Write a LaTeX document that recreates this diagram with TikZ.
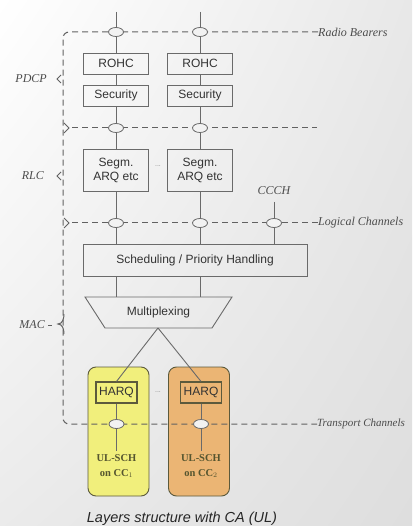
\documentclass[tikz,border=0pt]{standalone}
\usepackage{fontspec}
\setmainfont{Liberation Serif}
\setsansfont{Liberation Sans}
\usetikzlibrary{shapes.geometric, positioning, calc, shadings}
\usepackage{xcolor}

\definecolor{linegray}{HTML}{6A6A6A}
\definecolor{ccyellow}{HTML}{F1EF7C}
\definecolor{ccorange}{HTML}{EBB574}
\definecolor{ccborder}{HTML}{5C5A3C}
\definecolor{cctext}{HTML}{55552F}

\begin{document}
\begin{tikzpicture}[x=1pt, y=-1pt,
  box/.style={draw=linegray, line width=0.9pt, minimum width=65pt, minimum height=21pt, inner sep=0pt,
    font=\sffamily\fontsize{12}{14}\selectfont, text=black!80, align=center},
  chan/.style={draw=linegray, line width=0.8pt, ellipse, fill=white!95!black, minimum width=15pt, minimum height=9pt, inner sep=0pt},
  wire/.style={draw=linegray, line width=0.9pt},
  dashline/.style={draw=black!62, line width=1pt, dash pattern=on 6pt off 4pt},
  chanlabel/.style={font=\itshape\fontsize{12}{14}\selectfont, text=black!70, inner sep=0pt, anchor=west},
  layer/.style={font=\itshape\fontsize{12}{14}\selectfont, text=black!70, inner sep=0pt},
  brace/.style={draw=black!62, line width=1pt},
  carrier/.style={draw=ccborder, line width=0.9pt, rounded corners=8pt, minimum width=61pt, minimum height=129pt},
  sch/.style={font=\bfseries\fontsize{10.5}{15}\selectfont, text=cctext, align=center},
  more/.style={font=\sffamily\scriptsize, text=black!45}
]
  % background
  \clip (0,0) rectangle (412,526);
  \shade[upper left=white, upper right=black!9, lower left=black!8, lower right=black!13] (0,0) rectangle (412,526);

  % component carriers
  \node[carrier, fill=ccyellow] (cc1) at (118.5,431.5) {};
  \node[carrier, fill=ccorange] (cc2) at (199,431.5) {};

  % channel labels
  \node[chanlabel] (rbname) at (318,32) {Radio Bearers};
  \node[chanlabel] (lcname) at (318,223) {Logical Channels};
  \node[chanlabel, font=\itshape\fontsize{11}{13}\selectfont] (tcname) at (317,424) {Transport Channels};
  \coordinate (rpstart) at (72,128);
  \coordinate (rpend) at (317,128);
  \coordinate (lcstart) at (72,223);

  % layer labels
  \node[layer, anchor=east] (pdcp) at (47,79) {PDCP};
  \node[layer, anchor=east] (rlc) at (44,176) {RLC};
  \node[layer, anchor=east] (mac) at (45,325) {MAC};

  % dashed boundaries
  \draw[dashline, rounded corners=6pt] (rbname.west) -- (63,32) -- (63,424) -- (tcname.west);
  \draw[dashline] (rpstart) -- (rpend);
  \draw[dashline] (lcstart) -- (lcname.west);

  % braces
  \draw[brace] (61,75) -- (57,79) -- (61,83);
  \draw[brace] (61,172) -- (57,176) -- (61,180);
  \draw[brace] (64,123) -- (69,128) -- (64,133);
  \draw[brace] (64,218) -- (69,223) -- (64,228);
  \draw[brace] (48,325) -- (52,325);
  \draw[brace] (64,314) to[out=-90, in=0] (58,324) to[out=0, in=90] (64,334);

  % pdcp
  \node[box] (rohc1) at (116,63.5) {ROHC};
  \node[box] (rohc2) at (200,63.5) {ROHC};
  \node[box] (sec1) at (116,95.5) {Security};
  \node[box] (sec2) at (200,95.5) {Security};

  % rlc
  \node[box, minimum height=42pt] (seg1) at (116,170) {Segm.\\ARQ etc};
  \node[box, minimum height=42pt] (seg2) at (200,170) {Segm.\\ARQ etc};
  \node[more] (segdots) at (158,166) {...};

  % mac
  \node[layer] (ccch) at (274,191) {CCCH};
  \coordinate (ccchtop) at (274,202);
  \node[box, minimum width=224pt, minimum height=32pt] (sched) at (195,260) {Scheduling / Priority Handling};
  \draw[wire] (85,297) -- (232,297) -- (212,328) -- (105,328) -- cycle;
  \node[font=\sffamily\fontsize{12}{14}\selectfont, text=black!80] (mux) at (158.5,312) {Multiplexing};
  \coordinate (muxtop1) at (116,297);
  \coordinate (muxtop2) at (200,297);
  \coordinate (muxtip) at (158,328);
  \node[box, draw=ccborder, line width=1.1pt, minimum width=41pt] (harq1) at (116.5,392.5) {HARQ};
  \node[box, draw=ccborder, line width=1.1pt, minimum width=41pt] (harq2) at (201,392.5) {HARQ};
  \node[more] (harqdots) at (158,392) {...};

  % channels
  \node[chan] (rb1) at (116,32) {};
  \node[chan] (rb2) at (200,32) {};
  \node[chan] (rp1) at (116,128) {};
  \node[chan] (rp2) at (200,128) {};
  \node[chan] (lc1) at (116,223) {};
  \node[chan] (lc2) at (200,223) {};
  \node[chan] (lc3) at (274,223) {};
  \node[chan] (tc1) at (116.5,424) {};
  \node[chan] (tc2) at (201,424) {};

  \node[sch] (sch1) at (116.5,466) {UL-SCH\\on CC$_1$};
  \node[sch] (sch2) at (201,466) {UL-SCH\\on CC$_2$};

  % wires
  \coordinate (top1) at (116,12);
  \coordinate (top2) at (200,12);
  \draw[wire] (top1) -- (rb1) (rb1) -- (rohc1) (rohc1) -- (sec1) (sec1) -- (rp1) (rp1) -- (seg1) (seg1) -- (lc1) (lc1) -- (lc1 |- sched.north);
  \draw[wire] (top2) -- (rb2) (rb2) -- (rohc2) (rohc2) -- (sec2) (sec2) -- (rp2) (rp2) -- (seg2) (seg2) -- (lc2) (lc2) -- (lc2 |- sched.north);
  \draw[wire] (ccchtop) -- (lc3) (lc3) -- (lc3 |- sched.north);
  \draw[wire] (sched.south -| muxtop1) -- (muxtop1) (sched.south -| muxtop2) -- (muxtop2);
  \draw[wire] (muxtip) -- (harq1.north) (muxtip) -- (harq2.north);
  \draw[wire] (harq1) -- (tc1) (tc1) -- (sch1.north);
  \draw[wire] (harq2) -- (tc2) (tc2) -- (sch2.north);

  % caption
  \node[font=\sffamily\itshape\fontsize{14.5}{17}\selectfont, text=black!85] (caption) at (182,519) {Layers structure with CA (UL)};
\end{tikzpicture}
\end{document}
